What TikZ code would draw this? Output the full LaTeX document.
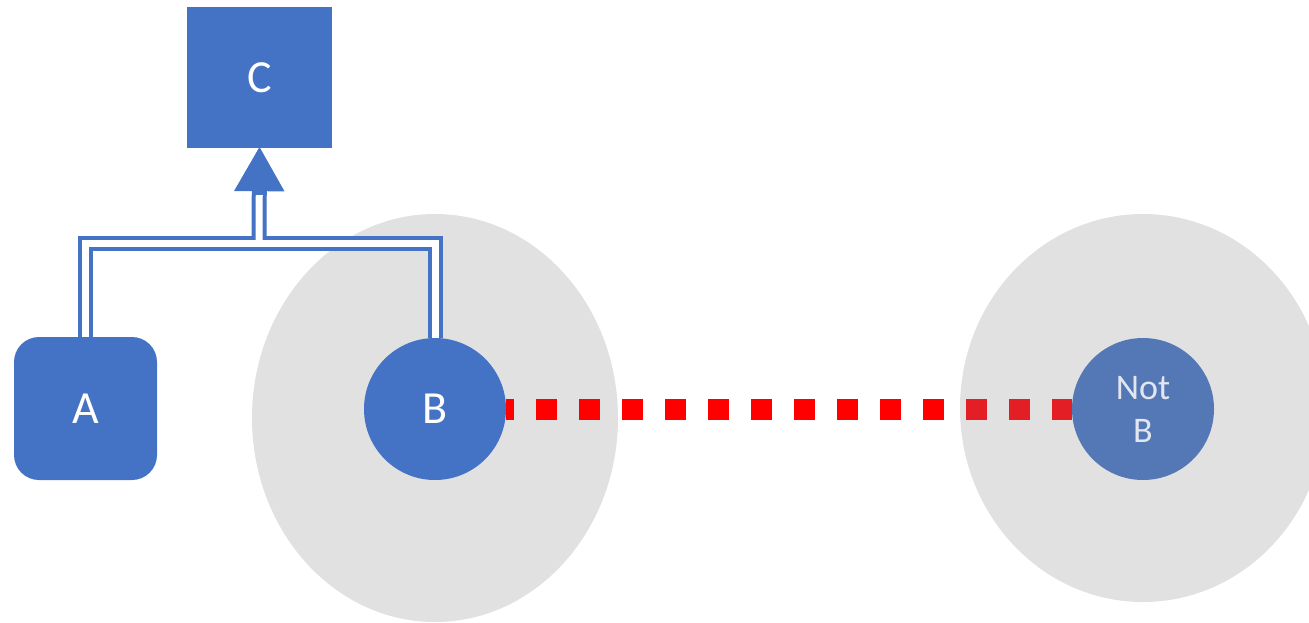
\documentclass[tikz,border=0pt]{standalone}
\usepackage{fontspec}
\setmainfont{Carlito}
\usetikzlibrary{arrows.meta}
\definecolor{mblue}{HTML}{4472C4}
\definecolor{nblue}{HTML}{5478B6}
\definecolor{ntext}{HTML}{E2E6EE}
\definecolor{ellgray}{HTML}{E1E1E1}
\definecolor{dred}{HTML}{E31E24}
\begin{document}
\begin{tikzpicture}[x=1pt,y=-1pt,
  shapebox/.style={fill=mblue, text=white, inner sep=0pt, font=\fontsize{46}{50}\selectfont},
  conn/.style={draw=mblue, line width=15pt, line join=miter},
  conninner/.style={draw=white, line width=7pt, line join=miter},
  reddots/.style={line width=21pt, dash pattern=on 21pt off 22pt, dash phase=13pt}]
\useasboundingbox (0,0) rectangle (1309,622);
% grey ellipses
\fill[ellgray] (435,418) ellipse [x radius=183pt, y radius=204pt];
\fill[ellgray] (1143,408) ellipse [x radius=183pt, y radius=194pt];
% nodes
\node[shapebox, minimum width=145pt, minimum height=141pt] (C) at (259.5,77.5) {C};
\node[shapebox, rounded corners=25pt, minimum width=143pt, minimum height=143pt] (A) at (85.5,408.5) {A};
\node[shapebox, circle, minimum size=142pt] (B) at (435,409) {B};
\node[circle, fill=nblue, text=ntext, inner sep=0pt, minimum size=142pt, align=center,
      font=\fontsize{36}{43}\selectfont] (NB) at (1143,409) {Not\\B};
% double connector
\coordinate (j) at (259,243);
\draw[conn] (A.north) |- (j) -| (B.north);
\draw[conn, -{Triangle[length=45pt,width=47pt]}] (j) -- ([yshift=2pt]C.south);
\draw[conninner] (A.north) |- (j) -| (B.north);
\draw[conninner, shorten >=47pt] (j) -- (C.south);
% red dotted connector
\draw[red, reddots] (B.east) -- (NB.west);
\begin{scope}
  \clip (1143,408) ellipse [x radius=183pt, y radius=194pt];
  \draw[dred, reddots] (B.east) -- (NB.west);
\end{scope}
\end{tikzpicture}
\end{document}
